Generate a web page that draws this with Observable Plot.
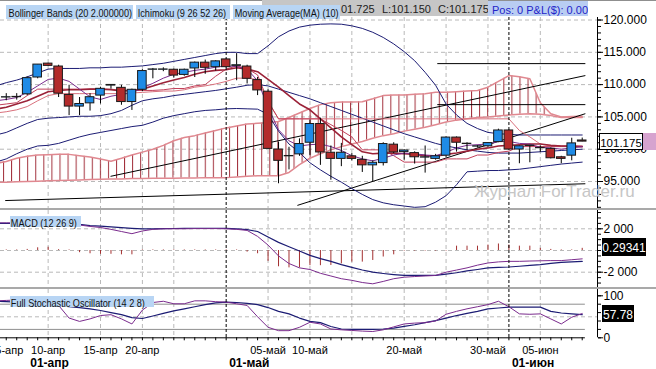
<!DOCTYPE html>
<html><head><meta charset="utf-8">
<script src="https://cdn.jsdelivr.net/npm/d3@7"></script>
<script src="https://cdn.jsdelivr.net/npm/@observablehq/plot@0.6"></script>
<style>
body{margin:0;background:#fff;font-family:"Liberation Sans",Arial,Helvetica,sans-serif;}
#wrap{position:relative;width:656px;height:369px;overflow:hidden;background:#fff;}
.box{position:absolute;white-space:nowrap;overflow:hidden;}
.lab{overflow:visible;}
.cond{display:inline-block;font-size:10.5px;transform:scaleX(.87);transform-origin:0 50%;color:#111;}
</style></head><body><div id="wrap"></div>
<script>
// ---------- data (bar index: 0 = first visible daily bar) ----------
const barIndex = d3.range(0, 56);
const lineIndex = d3.range(-1, 56);

const open = [108.00,108.05,108.50,111.10,113.25,112.80,108.40,106.60,107.10,108.30,
 109.85,109.50,107.30,109.20,112.30,112.30,112.30,111.50,112.50,113.40,
 112.70,113.90,112.90,112.80,110.70,108.90,99.95,98.90,99.20,101.00,
 103.90,99.45,98.50,98.90,98.35,97.50,97.85,100.70,99.55,99.40,
 98.70,98.50,99.00,101.80,100.80,100.40,100.45,101.10,102.90,99.95,
 100.50,100.20,100.05,98.75,99.00,101.35];
const high = [108.60,108.60,111.20,113.10,113.30,113.00,109.90,108.00,108.60,109.60,
 110.00,109.90,109.30,112.30,112.50,112.60,112.40,112.40,113.50,113.80,
 113.70,114.00,114.80,113.00,111.10,109.20,101.10,100.30,101.60,104.50,
 104.80,100.50,100.90,99.30,98.90,98.20,101.00,101.00,99.90,99.60,
 100.50,99.20,101.90,101.90,101.00,100.60,101.00,103.10,103.00,100.50,
 100.60,100.50,100.20,98.90,101.70,101.725];
const low = [107.50,107.60,108.30,110.90,112.80,108.00,105.20,105.20,105.90,107.00,
 109.30,106.80,106.00,108.90,110.90,112.00,111.00,111.30,111.10,111.60,
 112.10,112.60,110.60,110.10,108.30,100.00,94.65,96.80,98.90,99.00,
 97.50,95.20,97.30,98.20,96.40,95.00,97.40,99.30,98.30,97.70,
 96.30,98.30,98.70,99.55,99.80,100.20,100.30,101.00,99.90,97.75,
 97.90,99.50,98.50,97.75,98.20,101.15];
const close = [108.05,108.10,111.00,113.10,112.90,108.60,106.60,107.00,108.05,109.35,
 109.95,107.30,109.20,112.10,112.35,112.35,111.40,112.30,113.40,112.60,
 113.60,112.70,113.00,110.90,109.10,100.05,98.20,98.95,100.80,103.90,
 99.50,98.50,99.45,98.50,97.50,97.90,100.80,99.50,99.80,98.75,
 98.75,98.90,101.80,101.00,100.85,100.45,100.95,102.90,99.95,100.45,
 100.55,100.15,98.60,98.50,100.90,101.175];

// overlays, from bar -1 to 55
const bbUpper = [109.8,
 110.3,110.7,111.2,111.8,112.4,112.5,112.5,112.5,112.6,112.6,
 112.7,112.7,112.8,112.9,113.1,113.3,113.6,113.9,114.2,114.5,
 114.8,115.0,115.0,114.8,114.8,116.0,117.4,118.3,118.9,119.2,
 119.35,119.4,119.35,119.1,118.7,118.1,117.3,116.3,115.1,113.7,
 111.9,109.9,107.0,105.3,104.0,103.2,102.6,102.4,102.3,102.2,
 102.2,102.2,102.2,102.2,102.2,102.2];
const bbMiddle = [102.2,
 102.6,103.3,104.0,104.6,104.8,104.9,105.0,105.1,105.1,105.2,
 105.5,106.0,106.8,107.5,107.8,108.0,108.3,108.5,108.7,108.9,
 109.1,109.35,109.6,109.9,110.0,109.8,109.3,108.8,108.3,107.8,
 107.2,106.6,106.0,105.4,104.8,104.2,103.6,103.0,102.4,101.9,
 101.4,100.9,100.5,100.2,99.9,99.7,99.5,99.4,99.4,99.4,
 99.5,99.6,99.7,99.8,99.9,100.0];
const bbLower = [98.0,
 98.5,99.3,100.0,100.5,100.6,100.9,101.4,101.9,102.3,102.6,
 102.9,103.2,103.5,103.7,104.2,104.8,105.2,105.5,105.8,106.0,
 106.1,106.25,106.3,106.25,106.2,105.4,102.8,100.8,99.5,97.9,
 96.8,95.8,94.9,93.9,93.0,92.2,91.7,91.4,91.2,91.0,
 91.1,91.8,92.8,94.5,96.5,96.6,96.7,96.7,96.8,96.9,
 97.1,97.3,97.5,97.7,97.85,98.0];
const cloudTop = [97.8,
 98.1,98.6,98.9,99.1,99.15,99.2,99.2,99.0,98.8,98.5,
 98.15,98.6,99.1,99.55,100.0,100.6,101.3,101.8,102.1,102.5,
 102.9,103.3,103.6,103.9,104.0,104.1,104.3,104.9,105.6,106.3,
 106.9,107.2,107.3,107.3,107.35,107.8,108.3,108.4,108.4,108.5,
 108.6,108.8,108.8,108.9,109.0,109.1,109.6,110.5,111.4,111.2,
 110.9,107.2,105.5,105.0,105.05,105.1];
const cloudBottom = [94.9,
 94.9,94.95,95.0,95.05,95.1,95.15,95.2,95.25,95.3,95.35,
 95.4,95.4,95.45,95.45,95.5,95.5,95.5,95.55,95.55,95.6,
 95.6,95.6,95.7,95.8,95.9,95.9,95.9,96.4,97.6,98.6,
 99.3,99.9,100.4,100.8,101.2,101.7,102.1,102.4,102.8,103.1,
 103.4,103.8,104.2,104.5,104.7,104.9,105.0,105.15,105.3,105.4,
 105.5,105.4,105.2,104.9,104.9,104.9];
const ma10 = [106.2,
 106.5,107.0,107.5,108.2,108.9,109.1,109.2,109.2,109.3,109.3,
 109.2,109.0,109.1,109.3,109.8,110.3,110.7,111.1,111.6,112.0,
 112.2,112.3,112.6,112.4,112.0,110.8,109.6,108.3,107.0,106.1,
 104.7,103.3,101.9,100.7,99.6,99.3,99.4,99.4,99.3,99.2,
 99.0,98.9,99.2,99.4,99.7,100.0,100.2,100.5,100.6,100.7,
 100.8,100.8,100.6,100.5,100.5,100.4];
const kijun = [105.6,
 105.8,106.1,106.6,107.5,108.3,108.6,108.6,108.6,108.6,108.6,
 108.6,108.6,108.7,108.8,108.9,109.0,109.0,109.2,109.6,109.8,
 110.1,110.5,111.0,111.0,110.8,107.4,104.7,104.7,104.7,104.7,
 104.7,104.7,104.7,104.7,104.7,104.7,104.7,104.7,104.7,104.7,
 104.7,104.7,104.7,104.7,104.7,104.7,104.7,104.7,104.7,102.9,
 101.9,100.8,100.5,100.5,100.5,100.5];
const tenkan = [106.8,
 107.0,107.2,108.3,109.3,109.3,109.3,109.3,109.3,109.3,109.3,
 109.3,109.1,109.1,109.1,109.1,109.2,109.4,109.4,109.8,110.0,
 111.3,112.4,112.9,112.5,111.5,107.4,104.7,104.7,104.7,104.7,
 104.7,103.8,102.9,101.9,99.9,99.9,99.9,99.0,98.0,98.0,
 98.0,98.0,98.5,98.5,98.5,99.1,99.1,99.5,99.7,100.4,
 100.4,100.4,100.4,100.4,100.4,100.4];
const fastLine = [107.5,
 107.7,108.0,108.8,109.8,110.8,111.0,110.5,109.3,108.1,107.7,
 108.2,108.5,108.7,109.5,110.2,111.0,111.6,111.9,112.2,112.4,
 112.7,112.9,112.8,112.4,110.6,106.5,103.0,101.3,100.5,100.7,
 100.8,100.4,99.8,99.0,98.5,98.2,98.6,99.1,99.4,99.3,
 99.1,99.0,99.5,100.2,100.6,100.7,100.8,101.2,101.2,100.9,
 100.8,100.3,100.2,100.0,100.2,100.4];

// user trend lines (bar, price)
const trendX1 = [41.16, 41.16, 9.96, 27.8, -0.1];
const trendY1 = [113.25, 106.9, 95.8, 91.3, 92.05];
const trendX2 = [55.3, 55.3, 55.3, 55.3, 55.3];
const trendY2 = [113.25, 106.9, 111.4, 105.5, 94.65];

// MACD (12 26 9), from bar -1
const macdLine = [2.55,
 2.55,2.55,2.55,2.6,2.65,2.55,2.46,2.35,2.22,2.12,
 1.95,1.75,1.55,1.8,1.95,2.0,2.0,2.0,2.02,2.02,
 2.02,2.0,1.95,1.85,1.3,0.5,-0.5,-1.2,-1.6,-1.75,
 -2.1,-2.35,-2.6,-2.75,-2.95,-3.07,-2.85,-2.6,-2.46,-2.4,
 -2.35,-2.3,-2.0,-1.8,-1.6,-1.35,-1.15,-1.05,-1.0,-1.0,
 -0.97,-0.95,-0.93,-0.93,-0.85,-0.77];
const macdSignal = [2.5,
 2.5,2.5,2.5,2.5,2.5,2.48,2.46,2.4,2.3,2.24,
 2.17,2.1,2.04,2.0,2.0,2.02,2.03,2.04,2.05,2.05,
 2.05,2.04,2.0,1.92,1.75,1.25,0.75,0.35,-0.05,-0.45,
 -0.75,-1.0,-1.3,-1.55,-1.8,-2.0,-2.12,-2.22,-2.3,-2.3,
 -2.3,-2.3,-2.18,-2.05,-1.88,-1.75,-1.6,-1.55,-1.52,-1.45,
 -1.37,-1.3,-1.18,-1.1,-1.05,-1.0];
// histogram, bars 0..55
const macdHist = [0.05,0.05,0.1,0.25,0.3,0.08,0.05,-0.2,-0.3,-0.35,
 -0.35,-0.4,-0.4,0.05,0.05,0.05,0.05,0.05,0.05,0.05,
 0.05,0.05,0.05,-0.15,-0.3,-1.0,-1.5,-1.6,-1.6,-1.4,
 -1.4,-1.38,-1.23,-1.07,-1.07,-0.92,-0.6,-0.4,-0.05,-0.05,
 -0.05,-0.05,-0.05,0.4,0.4,0.4,0.5,0.6,0.5,0.4,
 0.4,0.2,0.1,0.05,0.05,0.2];
const macdReadout = "0.29341";

// Full stochastic (14 2 8), from bar -1
const stochK = [88,
 89,90,92,93,88,77,47,39,45,53,
 55,45,33,66,84,87,81,81,88,88,
 86,85,81,77,50,25,17,17,25,37,
 33,21,19,17.5,16,15,19,26,33,35,
 36,40,56,63,69,74,79,87,74,57,
 56,57,45,33,49,57.78];
const stochD = [87,
 86,85,84,82,80,77,74,72,69,65,
 60,55,48,46,52,58,64,69,74,79,
 83,85,84,82,79,72,63,57,47,39,
 36,27,21,20,20,20,21,23,27,31,
 36,41,47,53,58,63,69,71,73,73,
 73,73,63,59,57,55];
const stochLevels = [80, 20];

// axes / ticks
const priceTicks = [95, 100, 105, 110, 115, 120];
const macdTicks = [2, -2];
const macdTickLabels = ["2 000", "-2 000"];
const stochTicks = [100, 0];
const xTickIdx = [0, 4, 9, 13, 25, 29, 38, 46, 51];
const xTickLabels = ["05-апр","10-апр","15-апр","20-апр","05-май","10-май","20-май","30-май","05-июн"];
const monthIdx = [2, 21, 48];
const monthLabels = ["01-апр","01-май","01-июн"];
const gridIdx = [4, 9, 13, 16, 25, 29, 33, 38, 42, 46, 51];
const monthLineIdx = [21, 48];

const headerLabels = ["Bollinger Bands (20 2.000000)", "Ichimoku (9 26 52 26)", "Moving Average(MA) (10)"];
const panelLabels = ["MACD (12 26 9)", "Full Stochastic Oscillator (14 2 8)"];
const quoteParts = ["01.725", "L:101.150", "C:101.175"];
const posText = "Pos: 0 P&L($): 0.00";
const watermark = "Журнал ForTrader.ru";

// ---------- drawing ----------
const FONT = '"Liberation Sans", Arial, Helvetica, sans-serif';
const W = 656, MR = 59;
const xDomain = [-0.55, 56.46];
const dataEnd = 55.3;
const GRID = "#b9b9b9", NAVY = "#1c1c74", PURPLE = "#7b2c8e", BLUE = "#1f8be6", RED = "#b32b2b";
const wrap = document.getElementById("wrap");

const rows = lineIndex.map((i, k) => ({i, bu: bbUpper[k], bm: bbMiddle[k], bl: bbLower[k],
  ct: cloudTop[k], cb: cloudBottom[k], ma: ma10[k], kj: kijun[k], tk: tenkan[k], fs: fastLine[k],
  macd: macdLine[k], sig: macdSignal[k], sk: stochK[k], sd: stochD[k]}));
const candles = barIndex.map((i, k) => ({i, o: open[k], h: high[k], l: low[k], c: close[k], hist: macdHist[k]}));
const trends = trendX1.map((x1, k) => ({x1, y1: trendY1[k], x2: trendX2[k], y2: trendY2[k]}));

const baseStyle = {fontFamily: FONT, fontSize: "12px", background: "transparent", overflow: "visible", color: "#000"};
const vgrid = () => Plot.gridX({ticks: gridIdx, stroke: GRID, strokeOpacity: 1, strokeDasharray: "4,3"});
const monthRules = () => Plot.ruleX(monthLineIdx, {stroke: "#000", strokeDasharray: "3,2"});
const axisLine = () => Plot.ruleX([xDomain[1]], {stroke: "#000"});

function place(el, top) {
  el.style.position = "absolute"; el.style.left = "0px"; el.style.top = top + "px";
  wrap.appendChild(el);
}
function box(left, top, width, height, bg, html, extra, cls) {
  const d = document.createElement("div");
  d.className = "box" + (cls ? " " + cls : "");
  Object.assign(d.style, {left: left + "px", top: top + "px", width: width + "px", height: height + "px",
    background: bg, lineHeight: height + "px"}, extra || {});
  d.innerHTML = html;
  wrap.appendChild(d);
  return d;
}

// main price panel
const mainTop = 17;
const mainPlot = Plot.plot({
  width: W, height: 191, marginLeft: 0, marginRight: MR, marginTop: 0, marginBottom: 0,
  style: baseStyle,
  x: {domain: xDomain, axis: null},
  y: {domain: [90.82, 120.39]},
  marks: [
    Plot.gridY({ticks: priceTicks, stroke: GRID, strokeOpacity: 1, strokeDasharray: "4,3"}),
    vgrid(),
    Plot.areaY(rows, {x: "i", y1: "cb", y2: "ct", fill: "url(#hatch)"}),
    Plot.line(rows, {x: "i", y: "ct", stroke: "#e08890", strokeWidth: 1.5}),
    Plot.line(rows, {x: "i", y: "cb", stroke: "#e08890", strokeWidth: 1.5}),
    Plot.link(trends, {x1: "x1", y1: "y1", x2: "x2", y2: "y2", stroke: "#000", strokeWidth: 1}),
    Plot.line(rows, {x: "i", y: "bu", stroke: NAVY, strokeWidth: 1}),
    Plot.line(rows, {x: "i", y: "bm", stroke: NAVY, strokeWidth: 1}),
    Plot.line(rows, {x: "i", y: "bl", stroke: NAVY, strokeWidth: 1}),
    Plot.line(rows, {x: "i", y: "kj", stroke: "#d9707c", strokeWidth: 1}),
    Plot.line(rows, {x: "i", y: "tk", stroke: "#c2405a", strokeWidth: 1}),
    Plot.line(rows, {x: "i", y: "ma", stroke: "#9b2238", strokeWidth: 1.6}),
    Plot.line(rows, {x: "i", y: "fs", stroke: PURPLE, strokeWidth: 1}),
    monthRules(),
    Plot.ruleX(candles, {x: "i", y1: "l", y2: "h", stroke: "#000"}),
    Plot.rect(candles.filter(d => d.c >= d.o), {x1: d => d.i - 0.41, x2: d => d.i + 0.41, y1: "o", y2: "c", fill: BLUE, stroke: "#1a1a1a"}),
    Plot.rect(candles.filter(d => d.c < d.o), {x1: d => d.i - 0.41, x2: d => d.i + 0.41, y1: "o", y2: "c", fill: RED, stroke: "#1a1a1a"}),
    axisLine(),
    Plot.axisY({anchor: "right", label: null, ticks: d3.range(91, 121), tickSize: 3, tickFormat: () => ""}),
    Plot.axisY({anchor: "right", label: null, ticks: priceTicks, tickSize: 5, tickPadding: 1, tickFormat: d => d.toFixed(3)})
  ]
});
const defs = document.createElementNS("http://www.w3.org/2000/svg", "defs");
defs.innerHTML = '<pattern id="hatch" patternUnits="userSpaceOnUse" x="3" y="0" width="8.07" height="6">' +
  '<line x1="0.5" y1="0" x2="0.5" y2="6" stroke="#a2303c" stroke-width="1"/></pattern>';
mainPlot.insertBefore(defs, mainPlot.firstChild);
place(mainPlot, mainTop);

// MACD panel
const macdTop = 210;
const macdPlot = Plot.plot({
  width: W, height: 77, marginLeft: 0, marginRight: MR, marginTop: 0, marginBottom: 0,
  style: baseStyle,
  x: {domain: xDomain, axis: null},
  y: {domain: [-3.41, 3.687]},
  marks: [
    Plot.gridY({ticks: [2, 0, -2], stroke: GRID, strokeOpacity: 1, strokeDasharray: "4,3"}),
    vgrid(),
    Plot.ruleX(candles, {x: "i", y1: 0, y2: "hist", stroke: "#a33030"}),
    Plot.line(rows, {x: "i", y: "sig", stroke: NAVY, strokeWidth: 1.2}),
    Plot.line(rows, {x: "i", y: "macd", stroke: PURPLE, strokeWidth: 1}),
    monthRules(),
    axisLine(),
    Plot.axisY({anchor: "right", label: null, ticks: d3.range(-3, 3.6, 0.5), tickSize: 3, tickFormat: () => ""}),
    Plot.axisY({anchor: "right", label: null, ticks: macdTicks, tickSize: 5, tickPadding: 1, tickFormat: d => macdTickLabels[macdTicks.indexOf(d)]})
  ]
});
place(macdPlot, macdTop);

// Stochastic panel + x axis
const stochTop = 289;
const stochPlot = Plot.plot({
  width: W, height: 80, marginLeft: 0, marginRight: MR, marginTop: 0, marginBottom: 31.7,
  style: baseStyle,
  x: {domain: xDomain},
  y: {domain: [0, 115]},
  marks: [
    Plot.gridY({ticks: [50], stroke: GRID, strokeOpacity: 1, strokeDasharray: "4,3"}),
    vgrid(),
    Plot.ruleY(stochLevels, {x1: xDomain[0], x2: dataEnd, stroke: "#8e8e8e"}),
    Plot.line(rows, {x: "i", y: "sd", stroke: NAVY, strokeWidth: 1.2}),
    Plot.line(rows, {x: "i", y: "sk", stroke: PURPLE, strokeWidth: 1}),
    monthRules(),
    axisLine(),
    Plot.ruleY([0], {x1: xDomain[0], x2: dataEnd, stroke: "#000"}),
    Plot.axisY({anchor: "right", label: null, ticks: [0, 20, 40, 60, 80, 100], tickSize: 3, tickFormat: () => ""}),
    Plot.axisY({anchor: "right", label: null, ticks: stochTicks, tickSize: 5, tickPadding: 1}),
    Plot.axisX({label: null, ticks: barIndex, tickSize: 3, tickFormat: () => ""}),
    Plot.axisX({label: null, ticks: xTickIdx, tickSize: 0, tickPadding: 8.5, fontSize: 11, tickFormat: d => xTickLabels[xTickIdx.indexOf(d)]}),
    Plot.axisX({label: null, ticks: monthIdx, tickSize: 0, tickPadding: 20.5, textAnchor: "start", dx: 3, fontSize: 12, fontWeight: "bold",
      tickFormat: d => monthLabels[monthIdx.indexOf(d)]})
  ]
});
place(stochPlot, stochTop);

// separators
box(0, 0, 656, 1, "#8f8f8f", "");
box(0, 208, 656, 2, "#a9a9a9", "");
box(0, 287, 656, 2, "#a9a9a9", "");

// header
box(262, 0, 226, 16, "#c6c6c6", "");
box(341, 0, 40, 16, "transparent", '<span style="font-size:11px;color:#222">' + quoteParts[0] + '</span>');
box(382, 0, 52, 16, "transparent", '<span style="font-size:11px;color:#222">' + quoteParts[1] + '</span>');
box(438, 0, 50, 16, "transparent", '<span style="font-size:11px;color:#222">' + quoteParts[2] + '</span>');
box(488, 1, 100, 15, "#b9cdf2", '<span style="font-size:11px;color:#2323c8;padding-left:4px">' + posText + '</span>');
box(6, 5, 127, 13.5, "#b8d5f4", '<span class="cond" style="padding-left:3px">' + headerLabels[0] + '</span>', null, "lab");
box(136, 5, 94, 13.5, "#b8d5f4", '<span class="cond" style="padding-left:2px">' + headerLabels[1] + '</span>', null, "lab");
box(233, 5, 107, 13.5, "#b8d5f4", '<span class="cond" style="padding-left:2px">' + headerLabels[2] + '</span>', null, "lab");
box(10, 216, 71, 11, "#b8d5f4", '<span class="cond" style="padding-left:1px">' + panelLabels[0] + '</span>', null, "lab");
box(10, 295.5, 144, 11, "#b8d5f4", '<span class="cond" style="padding-left:1px">' + panelLabels[1] + '</span>', null, "lab");

// readouts placed with the panels' own scales
const lastClose = close[close.length - 1];
const yc = mainTop + mainPlot.scale("y").apply(lastClose);
box(599, yc - 8.5, 44, 17, "#fff", '<span style="font-size:11.5px">' + lastClose.toFixed(3) + '</span>',
  {border: "1px solid #000", boxSizing: "border-box", textAlign: "center", lineHeight: "15px"});
box(643, yc - 8.5, 13, 17, "#d6a3cf", "");
const ym = macdTop + macdPlot.scale("y").apply(+macdReadout);
box(602, ym - 9, 44, 18, "#000", '<span style="font-size:12px;color:#fff">' + macdReadout + '</span>', {textAlign: "center"});
const lastK = stochK[stochK.length - 1];
const ys = stochTop + stochPlot.scale("y").apply(lastK);
box(602, ys - 8.5, 32, 17, "#000", '<span style="font-size:12px;color:#fff">' + lastK.toFixed(2) + '</span>', {textAlign: "center"});

// watermark
box(474, 182, 170, 20, "transparent", '<span style="font-size:17px;color:#c6c6c6">' + watermark + '</span>');
</script></body></html>
